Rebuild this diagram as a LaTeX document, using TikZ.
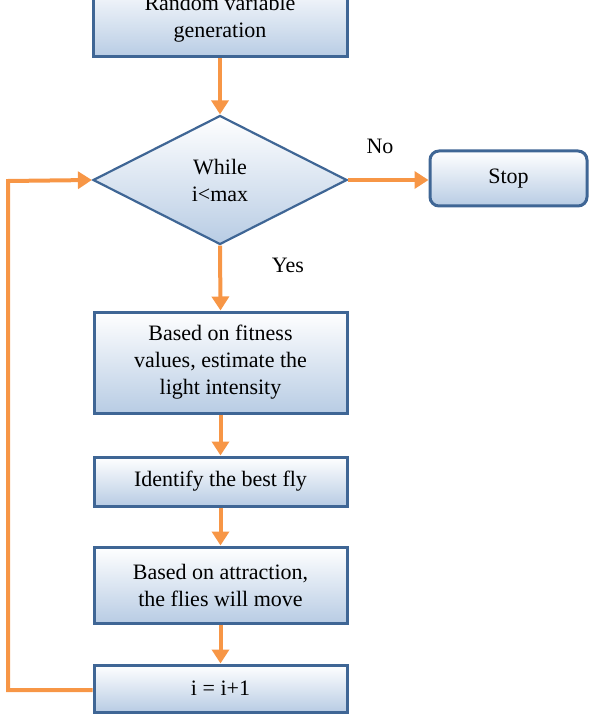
\documentclass[tikz,border=0pt]{standalone}
\usepackage{fontspec}
\setmainfont{Liberation Serif}
\usepackage{tikz}
\usetikzlibrary{shapes.geometric}
\usetikzlibrary{arrows.meta}
\usetikzlibrary{positioning}

\definecolor{flowOrange}{HTML}{F79646}
\definecolor{boxBorder}{HTML}{3F6695}
\definecolor{boxShade}{HTML}{B8CCE4}

\begin{document}
\begin{tikzpicture}[x=1pt, y=-1pt,
    stepbox/.style={draw=boxBorder, line width=3pt, top color=white, bottom color=boxShade, align=center, inner sep=0pt, font=\fontsize{22}{27}\selectfont},
    decision/.style={diamond, draw=boxBorder, line width=2.2pt, top color=white, bottom color=boxShade, align=center, inner sep=0pt, minimum width=254pt, minimum height=129pt, font=\fontsize{22}{27}\selectfont},
    flow/.style={draw=flowOrange, line width=4pt, -{Triangle[length=14pt, width=17pt]}},
    lbl/.style={font=\fontsize{22}{27}\selectfont}]
    \useasboundingbox (0,0) rectangle (594,727);

        \node[stepbox, minimum width=254pt, minimum height=77pt] (gen) at (220, 18.5) {Random variable\\generation};
        \node[decision] (while) at (220, 180) {While\\i<max};
        \node[stepbox, rounded corners=9pt, minimum width=157pt, minimum height=55pt] (stop) at (508.5, 178.5) {Stop};

        \node[stepbox, minimum width=253pt, minimum height=101pt] (light) at (220.5, 362.5) {Based on fitness\\values, estimate the\\light intensity};
        \node[stepbox, minimum width=253pt, minimum height=49pt] (best) at (220.5, 481.5) {Identify the best fly};
        \node[stepbox, minimum width=253pt, minimum height=76pt] (move) at (220.5, 585) {Based on attraction,\\the flies will move};
        \node[stepbox, minimum width=253pt, minimum height=47pt] (incr) at (220.5, 688.5) {i = i+1};

        \node[lbl] (no) at (380, 146) {No};
        \node[lbl] (yes) at (288, 265) {Yes};

        \coordinate (loopbot) at (8, 690);
        \coordinate (looptop) at (8, 181);

        \draw[flow] (gen.south) -- (while.north);
        \draw[flow] (while.east) -- (stop.west |- while.east);
        \draw[flow] (while.south) -- (light.north);
        \draw[flow] (light.south) -- (best.north);
        \draw[flow] (best.south) -- (move.north);
        \draw[flow] (move.south) -- (incr.north);
        \draw[flow] (incr.west |- loopbot) -- (loopbot) -- (looptop) -- (while.west);
    \end{tikzpicture}
\end{document}
